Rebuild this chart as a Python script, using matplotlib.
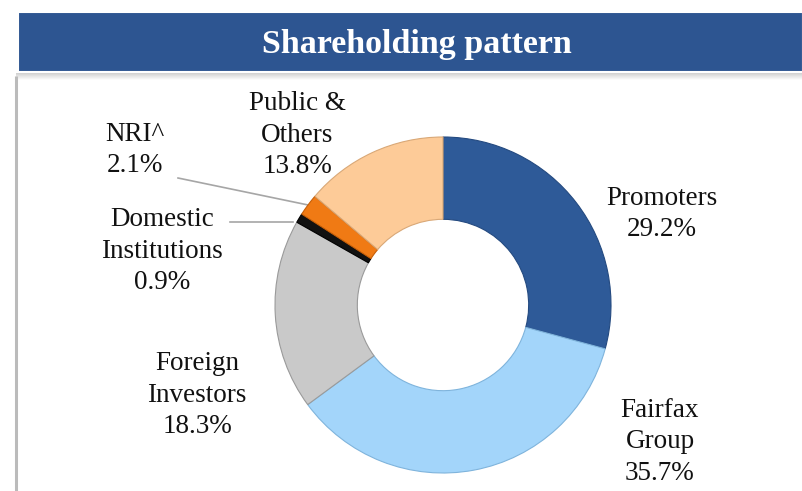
import matplotlib

matplotlib.use("Agg")
import matplotlib.pyplot as plt
from matplotlib.patches import Rectangle
import numpy as np

# data, clockwise from 12 o'clock
LABELS = ["Promoters\n29.2%", "Fairfax\nGroup\n35.7%", "Foreign\nInvestors\n18.3%",
          "Domestic\nInstitutions\n0.9%", "NRI^\n2.1%", "Public &\nOthers\n13.8%"]
SHARES = [29.2, 35.7, 18.3, 0.9, 2.1, 13.8]
COLORS = ["#2E5A98", "#A3D5FA", "#C9C9C9", "#111111", "#F07A14", "#FDCB98"]
EDGES = ["#244A80", "#7FB4DC", "#9A9A9A", "#000000", "#C55E08", "#D9A877"]

W, H = 803, 491
FONT = ["Liberation Serif", "DejaVu Serif"]
TEXT = "#111111"

fig = plt.figure(figsize=(W / 100, H / 100), dpi=100)
fig.patch.set_facecolor("white")

# overlay in pixel coordinates (y down)
ov = fig.add_axes([0, 0, 1, 1])
ov.set_xlim(0, W)
ov.set_ylim(H, 0)
ov.axis("off")

# title bar with a soft shadow
for i, a in enumerate(np.linspace(0.35, 0.03, 7)):
    ov.add_patch(Rectangle((16, 73 + i), W - 16, 1, color="#808080", alpha=a, lw=0))
ov.add_patch(Rectangle((18, 12), W - 18, 60, facecolor="#2D5591", edgecolor="white", lw=1.5))
ov.text(417, 44, "Shareholding pattern", ha="center", va="center", fontsize=24.5,
        fontweight="bold", color="white", family=FONT)
# left frame line
ov.plot([16.5, 16.5], [76, H], color="#BBBBBB", lw=2.2, solid_capstyle="butt")

# donut
cx, cy, r = 443, 305, 168
pie_ax = fig.add_axes([(cx - r) / W, (H - cy - r) / H, 2 * r / W, 2 * r / H])
wedges, _ = pie_ax.pie(SHARES, colors=COLORS, startangle=90, counterclock=False,
                       radius=1, wedgeprops=dict(width=0.49, linewidth=0.8))
for w, ec in zip(wedges, EDGES):
    w.set_edgecolor(ec)
pie_ax.set_xlim(-1, 1)
pie_ax.set_ylim(-1, 1)
pie_ax.set_aspect("equal")
pie_ax.axis("off")

# labels (pixel positions of text centres)
label_pos = [(662, 214), (660, 442), (197, 395), (162, 251), (135, 150), (297, 135)]
for lab, (x, y) in zip(LABELS, label_pos):
    ov.text(x, y, lab, ha="center", va="center", fontsize=19.5, color=TEXT,
            family=FONT, linespacing=1.36)

# leader lines for the thin slices
cum = np.cumsum([0] + SHARES)
mid = (cum[4] + cum[5]) / 2
ang = np.deg2rad(90 - mid / 100 * 360)
ov.plot([178, cx + 1.0 * r * np.cos(ang)], [178, cy - 1.0 * r * np.sin(ang)],
        color="#A6A6A6", lw=1.2)
# horizontal leader to the domestic slice
ly = 222
ov.plot([230, cx - np.sqrt((1.02 * r) ** 2 - (cy - ly) ** 2)], [ly, ly],
        color="#A6A6A6", lw=1.2)

fig.savefig("out.png", dpi=100, facecolor="white")
